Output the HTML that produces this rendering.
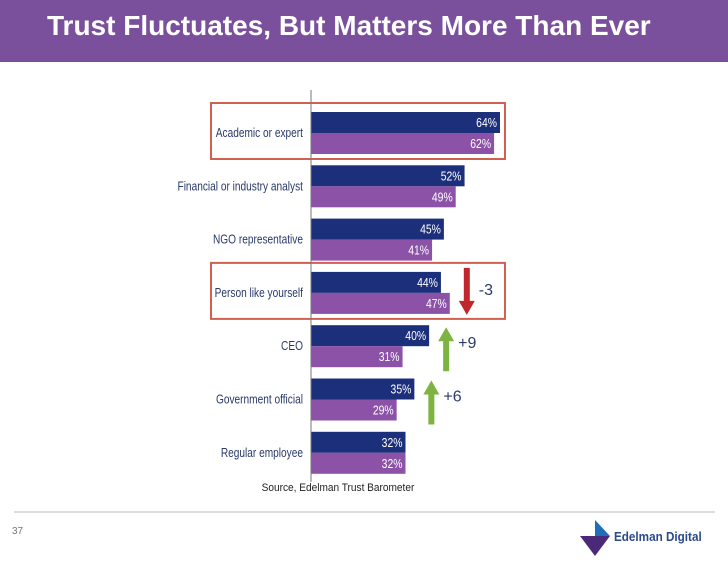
<!DOCTYPE html>
<html><head><meta charset="utf-8"><style>
body{margin:0;width:728px;height:563px;background:#fff;overflow:hidden;font-family:"Liberation Sans",sans-serif;position:relative}
#hdr{position:absolute;left:0;top:0;width:728px;height:62px;background:#7a509c}
#hdr div{position:absolute;left:47px;top:10px;color:#fff;font-weight:bold;font-size:28px}
</style></head><body>
<div id="hdr"><div>Trust Fluctuates, But Matters More Than Ever</div></div>
<svg id="chart" width="728" height="563" style="position:absolute;left:0;top:0"></svg>
<script>
const categories=["Academic or expert","Financial or industry analyst","NGO representative","Person like yourself","CEO","Government official","Regular employee"];
const current=[64,52,45,44,40,35,32];
const previous=[62,49,41,47,31,29,32];
const changes=[null,null,null,-3,9,6,null];
const highlighted=[0,3];
const NS="http://www.w3.org/2000/svg";
const svg=document.getElementById('chart');
const x0=311,scale=189/64,rowTop=112,rowStep=53.3,bh=21;
const xs=v=>x0+v*scale;
const ys=i=>rowTop+i*rowStep;
function mk(t,a,p){const e=document.createElementNS(NS,t);for(const k in a)e.setAttribute(k,a[k]);(p||svg).appendChild(e);return e;}
categories.forEach((c,i)=>{
  const y=ys(i);
  const b1=mk('rect',{x:x0,y:y,width:xs(current[i])-x0,height:bh,fill:'#1c2f7a'});
  
  
  const b2=mk('rect',{x:x0,y:y+bh,width:xs(previous[i])-x0,height:bh,fill:'#8c52a8'});
  
  
  const t1=mk('text',{x:xs(current[i])-3,y:y+15,'text-anchor':'end','font-size':13,fill:'#fff',transform:`translate(${xs(current[i])-3} 0) scale(0.8 1) translate(${-(xs(current[i])-3)} 0)`});t1.textContent=current[i]+'%';
  
  
  const t2=mk('text',{x:xs(previous[i])-3,y:y+bh+15,'text-anchor':'end','font-size':13,fill:'#fff',transform:`translate(${xs(previous[i])-3} 0) scale(0.8 1) translate(${-(xs(previous[i])-3)} 0)`});t2.textContent=previous[i]+'%';
  
  
  const l=mk('text',{x:303,y:y+bh+4,'text-anchor':'end','font-size':13,fill:'#2a3a6a',transform:'translate(303 0) scale(0.78 1) translate(-303 0)'});l.textContent=c;
  
  
  if(changes[i]!==null){
    const ax=xs(Math.max(current[i],previous[i]))+17;
    const up=changes[i]>0,col=up?'#7db340':'#c0262c';
    const top=y+(up?2:-4),bot=y+2*bh+(up?4:1);
    const pts=up?`${ax-3},${bot} ${ax+3},${bot} ${ax+3},${top+14} ${ax+8},${top+14} ${ax},${top} ${ax-8},${top+14} ${ax-3},${top+14}`
                :`${ax-3},${top} ${ax+3},${top} ${ax+3},${bot-14} ${ax+8},${bot-14} ${ax},${bot} ${ax-8},${bot-14} ${ax-3},${bot-14}`;
    const a=mk('polygon',{points:pts,fill:col});
    
    
    const ct=mk('text',{x:ax+12,y:y+bh+2,'font-size':16,fill:'#2a3a6a'});ct.textContent=(up?'+':'')+changes[i];
    
    
  }
});
highlighted.forEach(i=>{
  const r=mk('rect',{x:211,y:ys(i)-9,width:294,height:56,fill:'none',stroke:'#d06050','stroke-width':2});
  
  
});
const ax=mk('line',{x1:x0,y1:90,x2:x0,y2:482,stroke:'#777','stroke-width':1});


const src=mk('text',{x:338,y:491,'text-anchor':'middle','font-size':11,fill:'#222',transform:'translate(338 0) scale(0.92 1) translate(-338 0)'});src.textContent='Source, Edelman Trust Barometer';


const fl=mk('line',{x1:14,y1:512,x2:715,y2:512,stroke:'#bbb','stroke-width':1});


const pn=mk('text',{x:12,y:534,'font-size':10,fill:'#777'});pn.textContent='37';


const lg=mk('g',{});


mk('polygon',{points:'595,520 610,536 595,536',fill:'#1e6fb8'},lg);
mk('polygon',{points:'580,536 610,536 595,556',fill:'#4a2a78'},lg);
const lt=mk('text',{x:614,y:541,'font-size':13,'font-weight':'bold',fill:'#2a4a8a',transform:'translate(614 0) scale(0.9 1) translate(-614 0)'},lg);lt.textContent='Edelman Digital';
</script>
</body></html>
